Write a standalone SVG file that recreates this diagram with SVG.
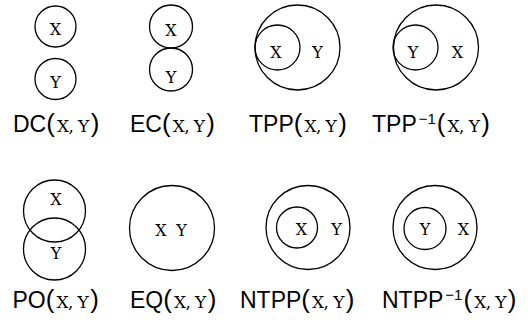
<svg xmlns="http://www.w3.org/2000/svg" width="528" height="327" viewBox="0 0 528 327">
<style>
.c{fill:none;stroke:#000;stroke-width:1.3}
.t{font-family:"DejaVu Serif",serif;font-size:16px;text-anchor:middle;fill:#000}
.l{font-family:"Liberation Sans","DejaVu Sans",sans-serif;font-size:23px;fill:#000}
.p{font-size:26px}
.m{font-family:"DejaVu Serif",serif;font-size:17px;letter-spacing:-0.6px}
.s{font-size:15px}
</style>
<rect width="528" height="327" fill="#fff"/>
<g id="connectors"/>
<g id="dc">
<circle class="c" cx="55.5" cy="26.5" r="20.5"/>
<circle class="c" cx="55.5" cy="79" r="20.5"/>
<text class="t" x="55.5" y="34.5">X</text>
<text class="t" x="55.5" y="87.5">Y</text>
<text class="l" x="13" y="132">DC<tspan class="p">(</tspan><tspan class="m" dx="2">X, Y</tspan><tspan class="p" dx="2">)</tspan></text>
</g>
<g id="ec">
<circle class="c" cx="171" cy="26.5" r="21.5"/>
<circle class="c" cx="171" cy="69.5" r="21.5"/>
<text class="t" x="171" y="35.5">X</text>
<text class="t" x="171" y="82.5">Y</text>
<text class="l" x="130" y="132">EC<tspan class="p">(</tspan><tspan class="m" dx="2">X, Y</tspan><tspan class="p" dx="2">)</tspan></text>
</g>
<g id="tpp">
<circle class="c" cx="297.5" cy="47.5" r="42.5"/>
<circle class="c" cx="277.5" cy="47.5" r="22.5"/>
<text class="t" x="276" y="57.5">X</text>
<text class="t" x="317.5" y="57.5">Y</text>
<text class="l" x="249" y="132">TPP<tspan class="p">(</tspan><tspan class="m" dx="2">X, Y</tspan><tspan class="p" dx="2">)</tspan></text>
</g>
<g id="tppi">
<circle class="c" cx="436" cy="47.5" r="42.5"/>
<circle class="c" cx="415.5" cy="47.5" r="22.5"/>
<text class="t" x="413" y="57.5">Y</text>
<text class="t" x="457.5" y="57.5">X</text>
<text class="l" x="372" y="132">TPP<tspan class="s" dx="2" dy="-8">−1</tspan><tspan class="p" dx="1" dy="8">(</tspan><tspan class="m" dx="2">X, Y</tspan><tspan class="p" dx="2">)</tspan></text>
</g>
<g id="po">
<circle class="c" cx="54.5" cy="211" r="31"/>
<circle class="c" cx="54.5" cy="249" r="31"/>
<text class="t" x="56" y="204.5">X</text>
<text class="t" x="56" y="258.5">Y</text>
<text class="l" x="12.5" y="307.5">PO<tspan class="p">(</tspan><tspan class="m" dx="2">X, Y</tspan><tspan class="p" dx="2">)</tspan></text>
</g>
<g id="eq">
<circle class="c" cx="172" cy="228" r="42.5"/>
<text class="t" x="161" y="235.5">X</text>
<text class="t" x="181.5" y="235.5">Y</text>
<text class="l" x="130" y="307.5">EQ<tspan class="p">(</tspan><tspan class="m" dx="2">X, Y</tspan><tspan class="p" dx="2">)</tspan></text>
</g>
<g id="ntpp">
<circle class="c" cx="308" cy="227.5" r="42"/>
<circle class="c" cx="297" cy="227.5" r="20.5"/>
<text class="t" x="301.5" y="234.5">X</text>
<text class="t" x="336.5" y="234.5">Y</text>
<text class="l" x="240" y="307.5">NTPP<tspan class="p">(</tspan><tspan class="m" dx="2">X, Y</tspan><tspan class="p" dx="2">)</tspan></text>
</g>
<g id="ntppi">
<circle class="c" cx="435" cy="227.5" r="42"/>
<circle class="c" cx="425" cy="228.5" r="21"/>
<text class="t" x="425" y="234.5">Y</text>
<text class="t" x="463.5" y="234.5">X</text>
<text class="l" x="382" y="307.5">NTPP<tspan class="s" dx="2" dy="-8">−1</tspan><tspan class="p" dx="1" dy="8">(</tspan><tspan class="m" dx="2">X, Y</tspan><tspan class="p" dx="2">)</tspan></text>
</g>
</svg>
